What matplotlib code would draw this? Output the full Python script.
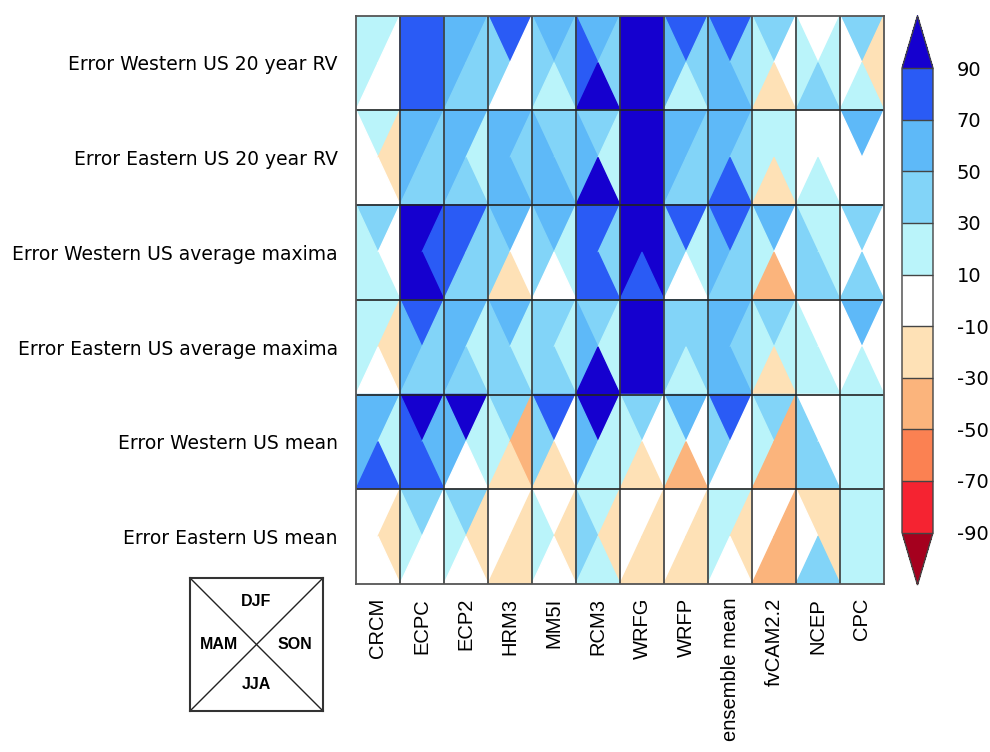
import numpy as np
import matplotlib
matplotlib.use("Agg")
import matplotlib.pyplot as plt
from matplotlib.collections import PolyCollection
from matplotlib.colors import ListedColormap, BoundaryNorm
from matplotlib.cm import ScalarMappable

models = ["CRCM", "ECPC", "ECP2", "HRM3", "MM5I", "RCM3", "WRFG", "WRFP",
          "ensemble mean", "fvCAM2.2", "NCEP", "CPC"]
metrics = ["Error Western US 20 year RV", "Error Eastern US 20 year RV",
           "Error Western US average maxima", "Error Eastern US average maxima",
           "Error Western US mean", "Error Eastern US mean"]

# percent error per season (rows = metrics, cols = models)
djf = [[20, 80, 60, 80, 60, 60, 95, 80, 80, 40, 0, 40],
       [20, 60, 60, 60, 40, 40, 95, 60, 60, 20, 0, 60],
       [40, 95, 80, 60, 60, 80, 95, 80, 80, 60, 20, 40],
       [20, 80, 60, 60, 40, 40, 95, 40, 60, 40, 0, 60],
       [60, 95, 95, 40, 80, 95, 40, 60, 80, 40, 0, 20],
       [0, 40, 40, 0, 0, 20, 0, 0, 20, 0, -20, 20]]
mam = [[20, 80, 60, 40, 40, 80, 95, 60, 60, 20, 20, 0],
       [0, 60, 60, 60, 60, 60, 95, 60, 60, 20, 0, 0],
       [20, 95, 80, 40, 40, 80, 95, 40, 60, 20, 40, 0],
       [20, 60, 60, 40, 40, 60, 95, 40, 60, 20, 20, 0],
       [60, 80, 60, 20, 40, 60, 20, 20, 40, 20, 40, 20],
       [0, 20, 20, 0, 20, 40, 0, 0, 20, 0, 0, 20]]
son = [[0, 80, 40, 0, 40, 40, 95, 40, 40, 0, 20, -20],
       [-20, 40, 20, 40, 40, 20, 95, 40, 40, 20, 0, 0],
       [0, 80, 40, 0, 20, 40, 95, 20, 40, 0, 20, 0],
       [-20, 40, 20, 20, 20, 20, 95, 40, 40, 20, 0, 0],
       [20, 60, 20, -40, 0, 20, 0, 0, 0, -40, 0, 20],
       [-20, 0, -20, -20, -20, -20, -20, -20, -20, -40, -20, 20]]
jja = [[0, 80, 40, 0, 20, 95, 95, 20, 60, -20, 40, 20],
       [0, 40, 40, 60, 60, 95, 95, 40, 80, -20, 20, 0],
       [20, 95, 40, -20, 0, 80, 80, 0, 40, -40, 40, 40],
       [0, 40, 40, 40, 40, 95, 95, 20, 60, -20, 20, 20],
       [80, 80, 0, -20, -20, 20, -20, -40, 0, -40, 40, 20],
       [0, 0, 0, -20, 0, 20, -20, -20, 0, -40, 40, 20]]

levels = [-90, -70, -50, -30, -10, 10, 30, 50, 70, 90]
level_labels = ["-90", "-70", "-50", "-30", "-10", "10", "30", "50", "70", "90"]
class_colors = ["#F52331", "#FB8152", "#FBB47C", "#FEE1B6", "#FFFFFF",
                "#BAF4FA", "#82D4F8", "#5EB9F8", "#2A5BF5"]
under_color = "#A5001E"
over_color = "#1500CF"

cmap = ListedColormap(class_colors)
cmap.set_under(under_color)
cmap.set_over(over_color)
norm = BoundaryNorm(levels, cmap.N)

W, H = 990, 752
fig = plt.figure(figsize=(W / 100, H / 100), dpi=100)

def px_axes(x0, y0, x1, y1):
    return fig.add_axes([x0 / W, 1 - y1 / H, (x1 - x0) / W, (y1 - y0) / H])

ax = px_axes(356, 15.5, 884, 584)
nrow, ncol = len(metrics), len(models)
verts, vals = [], []
seasons = [djf, mam, son, jja]
for j in range(nrow):
    for i in range(ncol):
        c = (i + 0.5, j + 0.5)
        tris = [[(i, j), (i + 1, j), c],
                [(i, j), (i, j + 1), c],
                [(i + 1, j), (i + 1, j + 1), c],
                [(i, j + 1), (i + 1, j + 1), c]]
        for t, s in zip(tris, seasons):
            verts.append(t)
            vals.append(s[j][i])
pc = PolyCollection(verts, array=np.array(vals, dtype=float), cmap=cmap, norm=norm,
                    edgecolors="face", linewidths=1.0)
ax.add_collection(pc)
ax.set_xlim(0, ncol)
ax.set_ylim(nrow, 0)
for k in range(1, ncol):
    ax.axvline(k, color="#3a3a3a", lw=1.2)
for k in range(1, nrow):
    ax.axhline(k, color="#222222", lw=1.2)
for sp in ax.spines.values():
    sp.set_color("#555555")
    sp.set_linewidth(1.3)
    sp.set_zorder(5)

ax.set_xticks(np.arange(ncol) + 0.5)
ax.set_xticklabels(models, rotation=90, fontsize=14.5, family="Liberation Sans")
ax.set_yticks(np.arange(nrow) + 0.5)
ax.set_yticklabels(metrics, fontsize=13.5, family="DejaVu Sans")
ax.tick_params(axis="x", length=0, pad=10)
ax.tick_params(axis="y", length=0, pad=13)

cax = px_axes(902, 15.7, 933, 585)
cb = fig.colorbar(ScalarMappable(norm=norm, cmap=cmap), cax=cax, extend="both",
                  extendfrac=0.113, drawedges=True, ticks=levels)
cb.set_ticklabels(level_labels)
cb.ax.tick_params(length=0, pad=17, labelsize=14)
for t in cb.ax.get_yticklabels():
    t.set_family("DejaVu Sans")
cb.outline.set_edgecolor("#444444")
cb.outline.set_linewidth(1.0)
cb.dividers.set_color("#444444")
cb.dividers.set_linewidth(1.0)

lax = px_axes(190, 578, 323, 711)
lax.set_xlim(0, 1)
lax.set_ylim(0, 1)
lax.plot([0, 1], [0, 1], color="#222222", lw=1.0)
lax.plot([0, 1], [1, 0], color="#222222", lw=1.0)
lax.set_xticks([])
lax.set_yticks([])
for sp in lax.spines.values():
    sp.set_linewidth(1.5)
    sp.set_color("#333333")
for name, (x, y) in zip(["DJF", "MAM", "SON", "JJA"],
                        [(0.5, 0.82), (0.22, 0.5), (0.79, 0.5), (0.5, 0.2)]):
    lax.text(x, y, name, ha="center", va="center", fontsize=11.5,
             fontweight="bold", family="Liberation Sans")

fig.savefig("out.png", dpi=100)
